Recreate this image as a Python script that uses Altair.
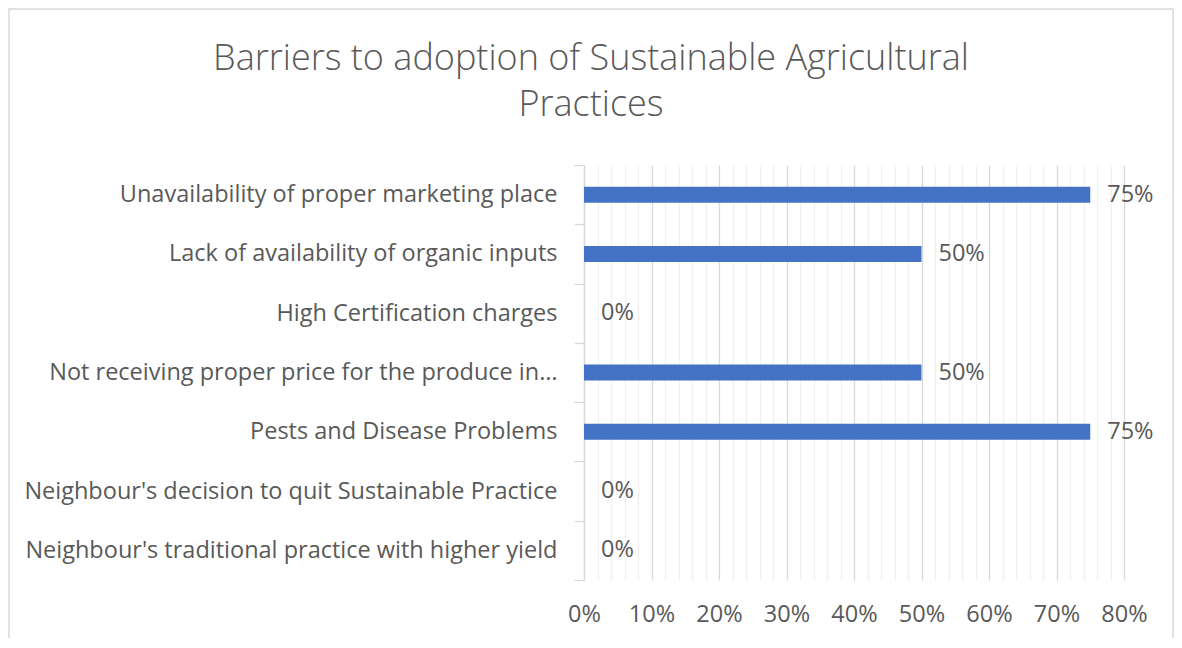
import altair as alt
import pandas as pd

categories = [
    "Unavailability of proper marketing place",
    "Lack of availability of organic inputs",
    "High Certification charges",
    "Not receiving proper price for the produce in\u2026",
    "Pests and Disease Problems",
    "Neighbour's decision to quit Sustainable Practice",
    "Neighbour's traditional practice with higher yield",
]
values = [75, 50, 0, 50, 75, 0, 0]
grid_ticks = [0, 2, 4, 6, 8, 10, 12, 14, 16, 18, 20, 22, 24, 26, 28, 30, 32, 34, 36, 38,
              40, 42, 44, 46, 48, 50, 52, 54, 56, 58, 60, 62, 64, 66, 68, 70, 72, 74, 76, 78, 80]
title_lines = ["Barriers to adoption of Sustainable Agricultural", "Practices"]

df = pd.DataFrame({"category": categories, "value": values})

FONT = "Open Sans"
GRAY = "#595959"
FS = 23.5

x_enc = alt.X(
    "value:Q",
    scale=alt.Scale(domain=[0, 80], nice=False, zero=True),
    axis=alt.Axis(
        values=grid_ticks,
        title=None,
        ticks=False,
        domain=False,
        grid=True,
        gridColor={"condition": {"test": "datum.value % 10 === 0", "value": "#D9D9D9"}, "value": "#F0F0F0"},
        gridWidth=1.3,
        labelExpr="datum.value % 10 === 0 ? datum.value + '%' : ''",
        labelFlush=False,
        labelOverlap=False,
        labelFont=FONT,
        labelFontSize=FS,
        labelColor=GRAY,
        labelPadding=22,
    ),
)
y_enc = alt.Y(
    "category:N",
    sort=None,
    scale=alt.Scale(paddingInner=0, paddingOuter=0),
    axis=alt.Axis(
        title=None,
        domain=True,
        domainColor="#D9D9D9",
        domainWidth=1.3,
        ticks=True,
        tickBand="extent",
        tickSize=10,
        tickColor="#D9D9D9",
        tickWidth=1.3,
        labelPadding=17,
        labelFont=FONT,
        labelFontSize=FS,
        labelColor=GRAY,
        labelLimit=700,
        grid=False,
    ),
)

base = alt.Chart(df)
bars = base.mark_bar(color="#4472C4", size=16).encode(x=x_enc, y=y_enc)
labels = base.mark_text(align="left", baseline="middle", dx=17, font=FONT, fontSize=FS, color=GRAY).encode(
    x=x_enc,
    y=y_enc,
    text=alt.Text("label:N"),
).transform_calculate(label="datum.value + '%'")

one = pd.DataFrame({"a": [0]})
border = alt.Chart(one).mark_rect(
    fill=None, stroke="#D9D9D9", strokeWidth=1.5
).encode(
    x=alt.value(-575), x2=alt.value(589), y=alt.value(-156), y2=alt.value(500)
)

title = alt.Chart(one).mark_text(
    text=title_lines,
    align="center",
    baseline="alphabetic",
    lineHeight=46,
    font=FONT,
    fontSize=36,
    fontWeight=300,
    color=GRAY,
).encode(x=alt.value(7), y=alt.value(-95))

chart = alt.layer(bars, labels, border, title).properties(
    width=540,
    height=415,
    background="white",
    autosize=alt.AutoSizeParams(type="none"),
    padding={"left": 576, "top": 157, "right": 50, "bottom": 58},
).configure_view(strokeWidth=0, stroke="transparent")

chart.save("out.html", embed_options={"renderer": "svg", "actions": False})
